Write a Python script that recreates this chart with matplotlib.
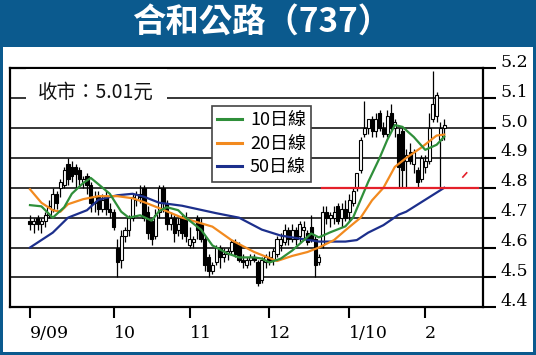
import matplotlib
matplotlib.use("Agg")
import matplotlib.pyplot as plt
import matplotlib.transforms as mtransforms
from matplotlib.patches import Rectangle
from matplotlib.lines import Line2D
import numpy as np

plt.rcParams['font.family'] = ['Noto Sans CJK TC', 'DejaVu Sans']

# ---------------- data ----------------
title = "合和公路（737）"
close_note = "收市：5.01元"
legend_labels = ["10日線", "20日線", "50日線"]

opens = [4.69,4.68,4.70,4.68,4.69,4.71,4.73,4.78,4.80,4.81,
         4.88,4.87,4.87,4.86,4.82,4.84,4.81,4.75,4.77,4.73,
         4.77,4.73,4.72,4.60,4.56,4.64,4.66,4.70,4.76,4.78,
         4.80,4.72,4.69,4.64,4.72,4.80,4.75,4.68,4.70,4.66,
         4.70,4.70,4.61,4.62,4.70,4.68,4.63,4.57,4.52,4.55,
         4.60,4.57,4.58,4.59,4.62,4.61,4.56,4.54,4.56,4.57,
         4.55,4.49,4.55,4.57,4.56,4.58,4.61,4.62,4.66,4.63,
         4.66,4.64,4.66,4.65,4.67,4.63,4.55,4.61,4.72,4.70,
         4.70,4.74,4.70,4.73,4.72,4.75,4.80,4.86,4.98,5.00,
         5.03,4.99,5.05,5.00,4.98,5.05,5.00,4.98,4.99,4.89,
         4.92,4.88,4.86,4.83,4.87,4.89,5.03,5.04,4.96,5.00]
highs = [4.71,4.70,4.71,4.70,4.72,4.76,4.80,4.79,4.83,4.87,
         4.90,4.89,4.88,4.87,4.84,4.85,4.82,4.79,4.79,4.78,
         4.79,4.75,4.73,4.63,4.66,4.67,4.71,4.78,4.79,4.81,
         4.81,4.74,4.70,4.73,4.81,4.81,4.76,4.72,4.71,4.70,
         4.71,4.72,4.67,4.64,4.71,4.70,4.64,4.58,4.55,4.61,
         4.61,4.60,4.60,4.63,4.63,4.62,4.58,4.57,4.58,4.58,
         4.56,4.57,4.58,4.59,4.60,4.64,4.65,4.68,4.67,4.68,
         4.67,4.69,4.69,4.66,4.71,4.64,4.58,4.74,4.74,4.72,
         4.74,4.75,4.75,4.76,4.78,4.80,4.85,4.97,5.09,5.03,
         5.04,5.05,5.06,5.02,5.06,5.08,5.03,5.00,5.00,4.93,
         4.95,4.93,4.87,4.91,4.91,5.05,5.19,5.12,5.02,5.03]
lows = [4.66,4.65,4.66,4.65,4.67,4.70,4.72,4.73,4.77,4.80,
        4.81,4.82,4.80,4.81,4.80,4.78,4.72,4.72,4.71,4.72,
        4.71,4.70,4.66,4.50,4.53,4.62,4.64,4.69,4.74,4.75,
        4.69,4.63,4.61,4.63,4.70,4.72,4.66,4.66,4.62,4.64,
        4.63,4.62,4.60,4.60,4.63,4.62,4.52,4.50,4.51,4.54,
        4.53,4.55,4.56,4.58,4.57,4.55,4.53,4.53,4.54,4.55,
        4.47,4.48,4.53,4.54,4.54,4.57,4.59,4.61,4.61,4.62,
        4.61,4.62,4.63,4.61,4.62,4.50,4.54,4.60,4.68,4.67,
        4.68,4.68,4.67,4.69,4.69,4.74,4.79,4.85,4.97,4.98,
        4.97,4.97,4.99,4.97,4.97,4.99,4.97,4.80,4.80,4.80,
        4.88,4.85,4.80,4.82,4.85,4.88,5.02,5.02,4.80,4.96]
closes = [4.68,4.69,4.68,4.69,4.71,4.74,4.78,4.75,4.82,4.86,
          4.83,4.84,4.845,4.83,4.83,4.81,4.75,4.77,4.73,4.76,
          4.73,4.72,4.67,4.55,4.64,4.66,4.70,4.77,4.78,4.77,
          4.70,4.65,4.63,4.71,4.80,4.75,4.68,4.70,4.65,4.68,
          4.65,4.64,4.63,4.63,4.66,4.63,4.54,4.52,4.54,4.60,
          4.57,4.58,4.59,4.62,4.58,4.56,4.55,4.56,4.57,4.56,
          4.48,4.56,4.57,4.56,4.59,4.63,4.63,4.66,4.63,4.66,
          4.63,4.68,4.67,4.62,4.63,4.54,4.57,4.72,4.70,4.71,
          4.72,4.69,4.73,4.70,4.76,4.79,4.85,4.96,5.00,5.03,
          4.99,5.03,5.00,4.98,5.04,5.00,5.02,4.87,4.86,4.91,
          4.89,4.92,4.82,4.90,4.89,5.00,5.08,5.11,5.00,5.01]

ma10_day = [0,3,6,9,11,14,16,18,21,24,26,29,32,34,36,39,41,45,48,52,55,59,61,63,66,69,
            72,74,76,79,83,85,87,89,92,94,96,98,101,104,107,109]
ma10_val = [4.742,4.738,4.70,4.735,4.78,4.816,4.833,4.812,4.78,4.72,4.70,4.708,4.69,4.722,
            4.735,4.725,4.70,4.66,4.607,4.58,4.567,4.567,4.563,4.55,4.563,4.59,4.624,4.647,
            4.634,4.651,4.671,4.70,4.76,4.82,4.90,4.96,5.01,5.004,4.97,4.927,4.944,4.971]
ma20_day = [0,3,6,8,10,14,18,23,27,30,34,40,48,53,59,62,65,69,73,76,80,83,87,90,93,96,99,103,107,109]
ma20_val = [4.795,4.75,4.725,4.72,4.745,4.762,4.772,4.772,4.765,4.752,4.732,4.70,4.67,4.625,
            4.585,4.57,4.555,4.572,4.585,4.60,4.625,4.658,4.70,4.758,4.80,4.87,4.90,4.935,4.975,4.978]
ma50_day = [0,6,10,15,18,23,27,30,34,40,49,55,61,66,71,76,83,86,89,93,97,99,104,109]
ma50_val = [4.60,4.65,4.70,4.725,4.76,4.775,4.78,4.77,4.75,4.74,4.715,4.70,4.66,4.64,4.63,
            4.62,4.62,4.625,4.65,4.675,4.71,4.72,4.76,4.80]

support_day = [76.8, 117.9]
support_val = [4.80, 4.80]
mark_day = [113.9, 114.9]
mark_val = [4.836, 4.850]

xtick_days = [0, 22, 42, 63, 84, 104]
xtick_labels = ["9/09", "10", "11", "12", "1/10", "2"]
ytick_vals = [4.4, 4.5, 4.6, 4.7, 4.8, 4.9, 5.0, 5.1, 5.2]
ytick_labels = ["4.4", "4.5", "4.6", "4.7", "4.8", "4.9", "5.0", "5.1", "5.2"]

# ---------------- figure ----------------
W, H = 536, 355
fig = plt.figure(figsize=(W/100, H/100), dpi=100)
blue = '#0b5a8e'
fig.patch.set_facecolor(blue)
fig.add_artist(Rectangle((3/W, 3/H), 530/W, (H-47.3-3)/H, transform=fig.transFigure,
                         facecolor='white', edgecolor='none', zorder=0))
fig.text(0.488, 0.935, title, color='white', fontsize=24, fontweight='heavy',
         ha='center', va='center', family=['Noto Sans CJK TC', 'DejaVu Sans'])

ax = fig.add_axes([10/W, (H-307.3)/H, 473/W, 239/H])
ax.set_facecolor('white')
ax.set_xlim(-5.26, 119.2)
ax.set_ylim(4.4, 5.2)

# grid
for v in ytick_vals[1:-1]:
    ax.axhline(v, color='black', lw=1.1, zorder=1)

# candles
n = len(closes)
x = np.arange(n)
o = np.array(opens); c = np.array(closes); h = np.array(highs); l = np.array(lows)
ax.vlines(x, l, h, color='black', lw=0.9, zorder=3)
up = c >= o
bottom = np.minimum(o, c)
height = np.maximum(np.abs(c - o), 0.004)
ax.bar(x[up], height[up], bottom=bottom[up], width=0.8, facecolor='white',
       edgecolor='black', linewidth=0.8, zorder=4)
ax.bar(x[~up], height[~up], bottom=bottom[~up], width=0.8, facecolor='black',
       edgecolor='black', linewidth=0.8, zorder=4)

# moving averages
green = '#2f8f3a'; orange = '#f28a1f'; navy = '#1c2f8c'
ax.plot(ma50_day, ma50_val, color=navy, lw=1.6, zorder=5)
ax.plot(ma20_day, ma20_val, color=orange, lw=1.6, zorder=5)
ax.plot(ma10_day, ma10_val, color=green, lw=1.6, zorder=5)

# support line
ax.plot(support_day, support_val, color='#e4202a', lw=1.6, zorder=6, clip_on=False)
ax.plot(mark_day, mark_val, color='#e4202a', lw=1.2, zorder=6)

# note text
ax.text(0.182, 0.901, close_note, transform=ax.transAxes, fontsize=14,
        ha='center', va='center', color='#111111', zorder=7,
        bbox=dict(facecolor='white', edgecolor='none', boxstyle='square,pad=0.65'))

# legend
handles = [Line2D([], [], color=green, lw=2.2),
           Line2D([], [], color=orange, lw=2.2),
           Line2D([], [], color=navy, lw=2.2)]
leg = ax.legend(handles, legend_labels, loc='upper left', bbox_to_anchor=(0.427, 0.842),
                borderaxespad=0, fontsize=13, handlelength=1.35, handletextpad=0.45,
                labelspacing=0.3, borderpad=0.3, frameon=True, fancybox=False,
                framealpha=1, edgecolor='#444444')
leg.get_frame().set_linewidth(1.2)
leg.set_zorder(8)

# axes styling
for s in ax.spines.values():
    s.set_linewidth(1.6)
    s.set_color('black')
ax.yaxis.tick_right()
ax.set_yticks(ytick_vals)
ax.set_yticklabels(ytick_labels, family='DejaVu Serif', fontsize=12.5)
ax.set_xticks(xtick_days)
ax.set_xticklabels(xtick_labels, family='DejaVu Serif', fontsize=12.5, ha='left')
ax.tick_params(axis='y', direction='out', length=9.5, width=1.5, pad=3)
ax.tick_params(axis='x', direction='out', length=8, width=1.5, pad=5)
off = mtransforms.ScaledTranslation(0, 8/100, fig.dpi_scale_trans)
for lab in ax.get_yticklabels():
    lab.set_transform(lab.get_transform() + off)

fig.savefig("out.png", dpi=100, facecolor=fig.get_facecolor())
